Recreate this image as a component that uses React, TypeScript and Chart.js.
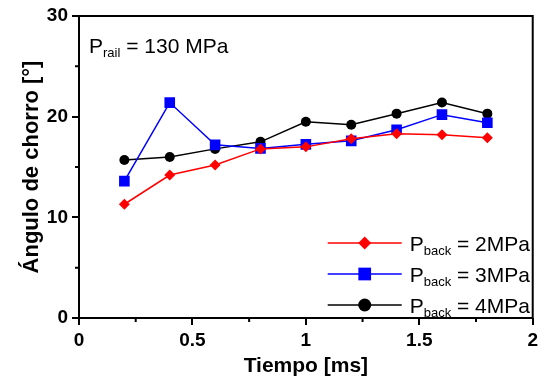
import React, { useEffect, useRef } from 'react';
import { Chart, registerables } from 'chart.js';

Chart.register(...registerables);

const times = [0.2, 0.4, 0.6, 0.8, 1.0, 1.2, 1.4, 1.6, 1.8];
const p2 = [11.3, 14.2, 15.2, 16.8, 17.0, 17.8, 18.3, 18.2, 17.9];
const p3 = [13.6, 21.4, 17.2, 16.85, 17.25, 17.6, 18.7, 20.2, 19.4];
const p4 = [15.7, 16.0, 16.8, 17.5, 19.5, 19.2, 20.3, 21.4, 20.3];
const seriesNames = ['2MPa', '3MPa', '4MPa'];
const seriesColors = ['#ff0000', '#0000ff', '#000000'];
const seriesStyles = ['rectRot', 'rect', 'circle'];
const xMinorTicks = [0.25, 0.75, 1.25, 1.75];
const yMinorTicks = [5, 15, 25];
const annotationMain = 'P';
const annotationSub = 'rail';
const annotationRest = ' = 130 MPa';
const FONT = '"Liberation Sans", Arial, sans-serif';

function drawMarker(ctx: CanvasRenderingContext2D, style: string, x: number, y: number, r: number, color: string) {
  ctx.save();
  ctx.fillStyle = color;
  ctx.beginPath();
  if (style === 'rectRot') {
    ctx.moveTo(x - r, y);
    ctx.lineTo(x, y - r);
    ctx.lineTo(x + r, y);
    ctx.lineTo(x, y + r);
    ctx.closePath();
  } else if (style === 'rect') {
    const s = r * Math.SQRT1_2;
    ctx.rect(x - s, y - s, 2 * s, 2 * s);
  } else {
    ctx.arc(x, y, r, 0, Math.PI * 2);
  }
  ctx.fill();
  ctx.restore();
}

function drawSubText(ctx: CanvasRenderingContext2D, x: number, y: number, main: string, sub: string, rest: string, size: number, subSize: number) {
  ctx.save();
  ctx.fillStyle = '#000';
  ctx.textBaseline = 'alphabetic';
  ctx.textAlign = 'left';
  ctx.font = `${size}px ${FONT}`;
  ctx.fillText(main, x, y);
  let cx = x + ctx.measureText(main).width;
  ctx.font = `${subSize}px ${FONT}`;
  ctx.fillText(sub, cx, y + 4);
  cx += ctx.measureText(sub).width;
  ctx.font = `${size}px ${FONT}`;
  ctx.fillText(rest, cx, y);
  ctx.restore();
}

const framePlugin = {
  id: 'framePlugin',
  afterDraw(chart: any) {
    const { ctx, chartArea } = chart;
    const xs = chart.scales.x;
    const ys = chart.scales.y;
    ctx.save();
    ctx.strokeStyle = '#000';
    ctx.lineWidth = 2;
    ctx.strokeRect(chartArea.left, chartArea.top, chartArea.right - chartArea.left, chartArea.bottom - chartArea.top);
    ctx.lineWidth = 2;
    ctx.beginPath();
    for (const v of xMinorTicks) {
      const px = xs.getPixelForValue(v);
      ctx.moveTo(px, chartArea.bottom);
      ctx.lineTo(px, chartArea.bottom + 4);
    }
    for (const v of yMinorTicks) {
      const py = ys.getPixelForValue(v);
      ctx.moveTo(chartArea.left, py);
      ctx.lineTo(chartArea.left - 4, py);
    }
    ctx.stroke();
    ctx.restore();

    // annotation
    drawSubText(ctx, chartArea.left + 10, chartArea.top + 37, annotationMain, annotationSub, annotationRest, 21, 13);

    // legend
    const lx0 = chartArea.right - 205;
    const lx1 = chartArea.right - 131;
    const mx = (lx0 + lx1) / 2;
    const tx = chartArea.right - 123;
    const radii = [6.5, 9, 6.5];
    for (let i = 0; i < 3; i++) {
      const y = chartArea.bottom - 75 + i * 31;
      ctx.save();
      ctx.strokeStyle = seriesColors[i];
      ctx.lineWidth = 1.5;
      ctx.beginPath();
      ctx.moveTo(lx0, y);
      ctx.lineTo(lx1, y);
      ctx.stroke();
      ctx.restore();
      drawMarker(ctx, seriesStyles[i], mx, y, radii[i], seriesColors[i]);
      drawSubText(ctx, tx, y + 8, 'P', 'back', ' = ' + seriesNames[i], 21, 13);
    }
  },
};

export default function App() {
  const ref = useRef<HTMLCanvasElement | null>(null);
  useEffect(() => {
    document.body.style.margin = '0';
    const canvas = ref.current;
    if (!canvas) return;
    const mk = (vals: number[], i: number, r: number) => ({
      label: 'P_back = ' + seriesNames[i],
      data: times.map((t, k) => ({ x: t, y: vals[k] })),
      borderColor: seriesColors[i],
      backgroundColor: seriesColors[i],
      borderWidth: 1.5,
      pointStyle: seriesStyles[i],
      pointRadius: r,
      pointBorderWidth: 0,
      tension: 0,
    });
    const chart = new Chart(canvas, {
      type: 'line',
      data: {
        datasets: [mk(p2, 0, 5.5), mk(p3, 1, 7.5), mk(p4, 2, 5)],
      },
      options: {
        animation: false,
        responsive: false,
        devicePixelRatio: 1,
        layout: { padding: { top: 16, right: 9, left: 0, bottom: 0 } },
        plugins: { legend: { display: false }, tooltip: { enabled: false } },
        scales: {
          x: {
            type: 'linear',
            min: 0,
            max: 2,
            afterFit: (s: any) => { s.height = 64; },
            ticks: {
              stepSize: 0.5,
              color: '#000',
              padding: 4,
              font: { family: FONT, size: 19, weight: 'bold' },
              callback: (v: any) => String(Number(v)),
            },
            grid: { display: true, drawOnChartArea: false, drawTicks: true, tickLength: 7, lineWidth: 2, color: '#000' },
            border: { display: false },
            title: {
              display: true,
              text: 'Tiempo [ms]',
              color: '#000',
              font: { family: FONT, size: 21, weight: 'bold' },
              padding: { top: 0, bottom: 3 },
            },
          },
          y: {
            type: 'linear',
            min: 0,
            max: 30,
            afterFit: (s: any) => { s.width = 79; },
            ticks: {
              stepSize: 10,
              color: '#000',
              padding: 4,
              font: { family: FONT, size: 19, weight: 'bold' },
            },
            grid: { display: true, drawOnChartArea: false, drawTicks: true, tickLength: 7, lineWidth: 2, color: '#000' },
            border: { display: false },
            title: {
              display: true,
              text: 'Ángulo de chorro [°]',
              color: '#000',
              font: { family: FONT, size: 22, weight: 'bold' },
              padding: { top: 19, bottom: 0 },
            },
          },
        },
      },
      plugins: [framePlugin],
    } as any);
    return () => chart.destroy();
  }, []);
  return (
    <div style={{ width: 542, height: 382, background: '#fff' }}>
      <canvas ref={ref} width={542} height={382} style={{ display: 'block' }} />
    </div>
  );
}
